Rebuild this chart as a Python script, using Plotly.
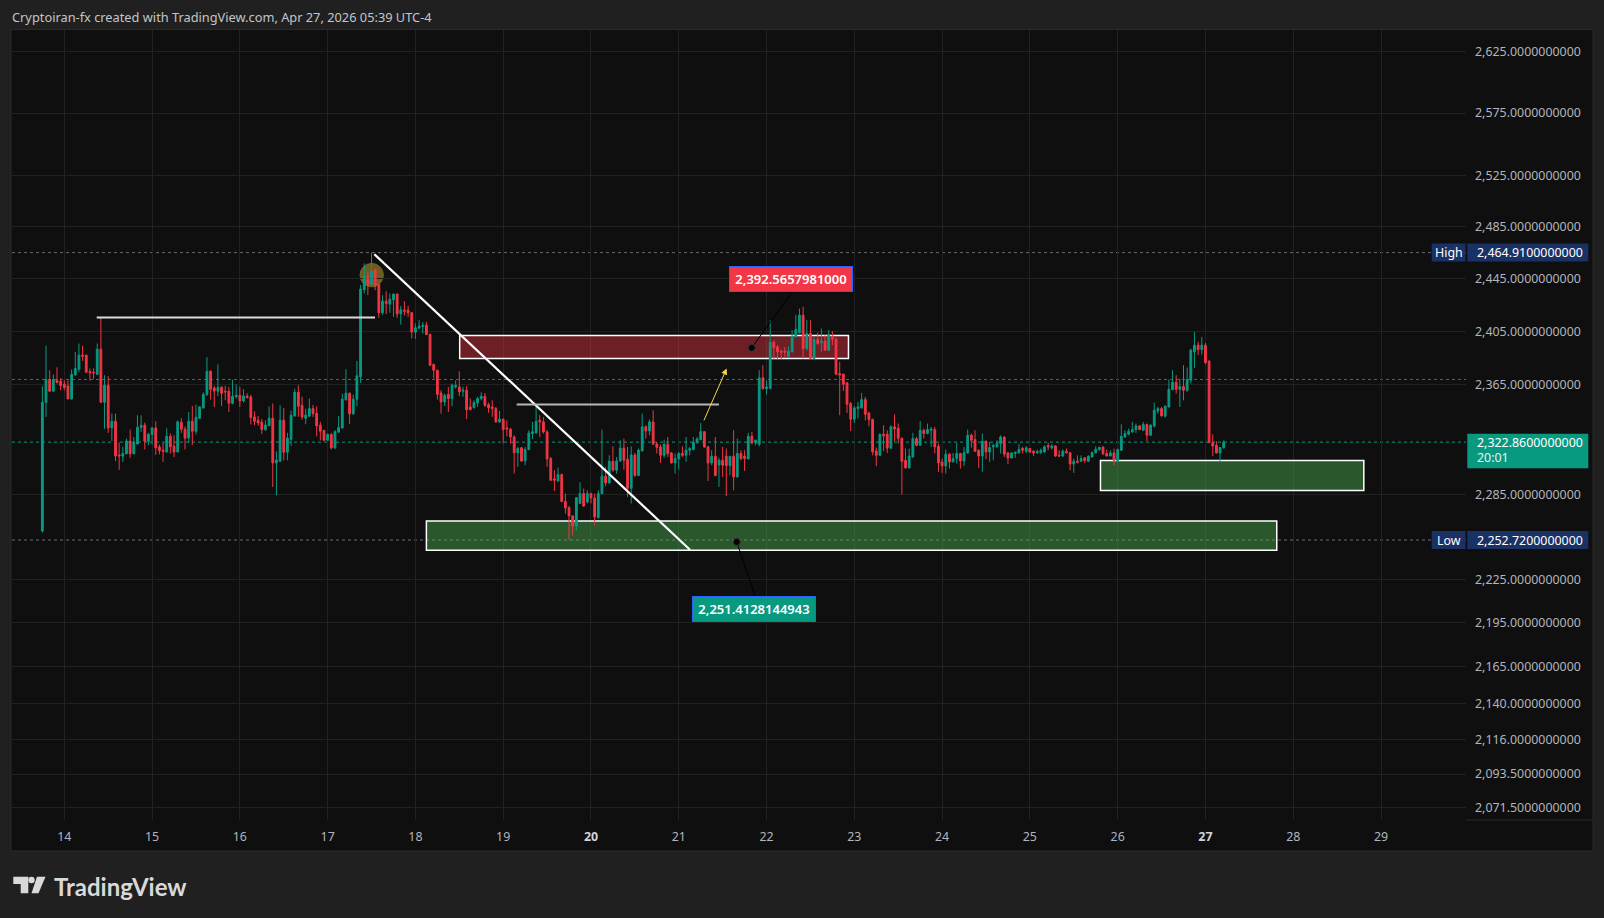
import numpy as np
import pandas as pd
import plotly.graph_objects as go

# ---------------- data (1h candles, first bar 2026-04-13 18:00) ----------------
first_bar = "2026-04-13 18:00"

open_ = [
    2259.1, 2352.0, 2368.8, 2360.2, 2368.3, 2367.6, 2365.4, 2364.1, 2354.5, 2372.3, 2376.5, 2387.0,
    2387.0, 2374.8, 2374.3, 2372.8, 2391.5, 2352.0, 2364.6, 2333.2, 2338.1, 2313.6, 2312.6, 2314.4,
    2323.7, 2314.4, 2321.5, 2333.5, 2335.2, 2323.5, 2328.4, 2333.2, 2319.4, 2317.0, 2315.7, 2327.1,
    2319.8, 2315.7, 2337.4, 2332.3, 2325.9, 2338.1, 2330.8, 2340.3, 2347.9, 2357.7, 2375.0, 2362.6,
    2360.2, 2363.1, 2360.2, 2360.2, 2351.3, 2356.2, 2357.2, 2353.0, 2356.7, 2356.0, 2341.3, 2338.8,
    2337.4, 2332.0, 2334.9, 2340.3, 2307.8, 2309.0, 2338.8, 2315.5, 2324.9, 2342.0, 2359.4, 2349.8,
    2340.3, 2341.8, 2347.4, 2343.9, 2335.2, 2331.3, 2324.2, 2328.4, 2318.7, 2330.1, 2333.2, 2353.8,
    2358.7, 2343.5, 2354.3, 2370.8, 2436.4, 2446.9, 2440.7, 2451.5, 2440.5, 2418.9, 2427.7, 2425.4,
    2428.7, 2433.1, 2418.1, 2420.9, 2420.9, 2418.9, 2404.3, 2407.3, 2408.6, 2409.5, 2402.5, 2380.2,
    2375.8, 2358.9, 2352.3, 2357.9, 2354.8, 2363.4, 2363.4, 2360.2, 2360.9, 2348.6, 2348.1, 2351.6,
    2354.8, 2356.5, 2350.3, 2348.6, 2347.4, 2337.6, 2339.6, 2333.2, 2332.3, 2326.6, 2315.0, 2318.7,
    2309.2, 2317.5, 2329.1, 2329.6, 2338.8, 2337.6, 2330.3, 2310.9, 2296.3, 2294.8, 2299.4, 2280.0,
    2275.7, 2269.8, 2262.6, 2278.6, 2285.7, 2279.7, 2285.7, 2282.6, 2268.6, 2285.7, 2298.2, 2293.4,
    2309.0, 2302.5, 2309.2, 2318.5, 2310.4, 2289.5, 2313.6, 2298.7, 2316.5, 2334.0, 2331.0, 2337.6,
    2321.5, 2319.4, 2313.3, 2321.3, 2315.0, 2307.8, 2310.7, 2314.6, 2313.3, 2317.0, 2317.5, 2322.5,
    2324.7, 2330.5, 2319.4, 2307.8, 2312.6, 2306.3, 2309.7, 2312.6, 2305.9, 2312.6, 2297.7, 2314.6,
    2312.6, 2310.7, 2327.1, 2322.3, 2321.3, 2370.1, 2362.1, 2362.1, 2396.7, 2393.2, 2390.0, 2390.0,
    2385.7, 2389.5, 2400.7, 2403.8, 2417.1, 2391.9, 2403.2, 2384.5, 2398.7, 2396.4, 2397.5, 2390.7,
    2401.2, 2399.0, 2373.3, 2372.8, 2366.4, 2351.1, 2339.6, 2347.4, 2347.9, 2354.0, 2344.2, 2339.3,
    2316.5, 2313.3, 2328.6, 2328.6, 2318.5, 2334.0, 2333.0, 2325.7, 2309.7, 2304.2, 2312.1, 2325.4,
    2320.6, 2331.5, 2329.1, 2331.5, 2332.0, 2319.8, 2308.5, 2305.6, 2314.1, 2308.5, 2310.9, 2314.6,
    2309.2, 2315.0, 2327.9, 2324.7, 2317.0, 2312.8, 2323.5, 2315.7, 2319.4, 2319.4, 2321.8, 2326.6,
    2315.0, 2311.4, 2314.6, 2315.0, 2318.2, 2316.2, 2318.2, 2316.2, 2315.0, 2315.5, 2315.7, 2320.3,
    2318.7, 2320.1, 2313.3, 2312.8, 2316.2, 2315.2, 2307.0, 2309.0, 2309.0, 2311.4, 2309.0, 2312.1,
    2315.2, 2317.5, 2319.1, 2314.6, 2312.8, 2315.0, 2309.2, 2317.0, 2326.6, 2328.6, 2330.3, 2332.0,
    2334.7, 2331.5, 2335.7, 2327.9, 2334.7, 2345.7, 2347.4, 2341.8, 2348.6, 2361.4, 2366.9, 2361.6,
    2363.6, 2360.9, 2368.3, 2389.5, 2394.5, 2391.2, 2394.5, 2382.5, 2322.5, 2320.6, 2315.0, 2318.7,
]

high = [
    2363.9, 2394.2, 2375.8, 2372.6, 2378.0, 2369.8, 2368.3, 2368.3, 2376.3, 2389.5, 2395.7, 2394.2,
    2387.5, 2377.0, 2377.2, 2395.7, 2415.3, 2372.1, 2371.3, 2343.7, 2343.7, 2322.7, 2319.4, 2325.4,
    2332.0, 2326.6, 2342.5, 2342.5, 2337.1, 2329.6, 2334.0, 2338.1, 2321.1, 2322.3, 2333.0, 2329.1,
    2327.9, 2338.8, 2340.3, 2334.2, 2344.9, 2349.3, 2350.3, 2349.3, 2359.4, 2385.5, 2375.8, 2364.1,
    2380.2, 2363.9, 2364.1, 2363.4, 2368.8, 2365.1, 2363.4, 2361.6, 2358.7, 2357.5, 2345.4, 2342.0,
    2339.8, 2338.8, 2349.1, 2351.1, 2316.2, 2349.8, 2347.9, 2329.6, 2345.9, 2362.1, 2364.6, 2356.2,
    2347.4, 2354.8, 2350.1, 2349.1, 2337.6, 2332.0, 2329.1, 2329.6, 2331.5, 2341.8, 2358.4, 2376.5,
    2359.2, 2357.7, 2382.7, 2440.0, 2456.6, 2450.2, 2464.91, 2452.7, 2441.2, 2432.3, 2435.3, 2433.6,
    2433.6, 2433.6, 2424.2, 2427.7, 2424.2, 2419.4, 2410.8, 2413.3, 2411.8, 2412.1, 2403.2, 2380.5,
    2376.0, 2360.9, 2358.4, 2363.4, 2365.9, 2368.3, 2375.0, 2363.4, 2363.9, 2354.8, 2353.5, 2356.0,
    2359.4, 2358.9, 2351.8, 2353.5, 2348.6, 2345.7, 2340.1, 2338.8, 2333.2, 2327.9, 2319.4, 2319.4,
    2319.4, 2331.5, 2337.6, 2350.3, 2342.5, 2341.3, 2331.5, 2312.1, 2302.5, 2304.4, 2300.1, 2285.7,
    2276.7, 2270.3, 2283.3, 2293.9, 2289.3, 2288.1, 2286.4, 2285.7, 2288.1, 2332.0, 2304.9, 2313.3,
    2319.8, 2312.1, 2324.2, 2325.4, 2319.4, 2319.8, 2315.0, 2318.2, 2343.7, 2335.2, 2339.3, 2346.1,
    2323.0, 2321.3, 2324.7, 2326.6, 2315.7, 2314.6, 2315.7, 2319.8, 2326.6, 2319.4, 2326.6, 2326.6,
    2336.9, 2331.0, 2320.1, 2317.0, 2326.6, 2311.6, 2319.4, 2318.2, 2312.6, 2331.5, 2325.4, 2317.0,
    2317.0, 2329.6, 2330.3, 2324.7, 2375.8, 2379.5, 2368.3, 2413.3, 2398.2, 2394.5, 2391.2, 2393.2,
    2393.7, 2405.8, 2417.1, 2422.1, 2423.4, 2413.3, 2413.3, 2400.7, 2404.0, 2407.0, 2402.0, 2405.8,
    2405.0, 2400.0, 2382.0, 2373.3, 2366.9, 2352.3, 2349.3, 2352.3, 2358.9, 2356.0, 2344.9, 2340.1,
    2318.9, 2329.1, 2335.2, 2331.5, 2335.2, 2343.2, 2336.4, 2326.0, 2318.2, 2318.2, 2329.6, 2326.6,
    2338.3, 2332.7, 2336.4, 2334.0, 2334.0, 2321.8, 2310.9, 2317.5, 2315.0, 2315.0, 2322.3, 2315.0,
    2319.4, 2332.0, 2329.1, 2331.5, 2317.5, 2329.1, 2324.2, 2323.0, 2321.8, 2324.2, 2327.9, 2327.1,
    2315.5, 2315.5, 2316.0, 2321.3, 2319.4, 2319.8, 2318.5, 2317.0, 2317.5, 2318.2, 2320.6, 2322.5,
    2321.3, 2320.6, 2317.0, 2317.7, 2318.2, 2315.7, 2310.9, 2313.3, 2313.3, 2312.1, 2313.3, 2316.2,
    2319.8, 2319.4, 2320.1, 2317.5, 2317.0, 2318.2, 2318.2, 2335.9, 2331.5, 2332.7, 2337.6, 2336.4,
    2335.2, 2337.6, 2336.4, 2335.9, 2351.8, 2348.6, 2348.6, 2349.8, 2368.8, 2375.8, 2372.1, 2369.6,
    2379.5, 2377.8, 2391.9, 2404.3, 2397.0, 2400.7, 2396.2, 2383.2, 2328.6, 2323.5, 2319.4, 2324.2,
]

low = [
    2258.0, 2341.3, 2359.7, 2359.7, 2365.9, 2360.9, 2360.9, 2354.3, 2354.0, 2371.6, 2374.5, 2382.7,
    2373.8, 2368.1, 2369.1, 2372.3, 2351.8, 2332.5, 2329.6, 2323.7, 2309.2, 2302.7, 2308.5, 2314.1,
    2311.4, 2314.1, 2321.3, 2330.3, 2317.5, 2320.6, 2321.1, 2313.6, 2313.9, 2308.5, 2315.5, 2314.6,
    2312.1, 2315.5, 2329.6, 2317.5, 2322.7, 2320.8, 2328.4, 2339.8, 2347.4, 2356.7, 2354.0, 2348.6,
    2356.5, 2349.3, 2353.5, 2344.9, 2350.6, 2354.8, 2348.6, 2352.0, 2354.8, 2335.7, 2335.2, 2334.9,
    2328.8, 2331.0, 2334.4, 2290.5, 2284.5, 2308.5, 2309.7, 2309.7, 2320.1, 2341.5, 2341.3, 2339.3,
    2335.9, 2341.3, 2341.3, 2327.1, 2324.2, 2323.7, 2323.7, 2317.5, 2317.7, 2330.0, 2332.7, 2353.5,
    2336.2, 2343.0, 2349.1, 2366.4, 2433.6, 2432.3, 2440.0, 2436.1, 2415.1, 2417.4, 2417.9, 2418.9,
    2415.8, 2415.1, 2410.0, 2416.9, 2415.8, 2399.5, 2399.2, 2406.3, 2403.2, 2402.0, 2379.0, 2369.6,
    2354.0, 2343.7, 2349.3, 2344.9, 2349.1, 2362.1, 2356.5, 2356.0, 2339.8, 2346.1, 2347.4, 2348.6,
    2353.5, 2348.6, 2344.2, 2341.3, 2337.1, 2336.9, 2321.8, 2327.1, 2321.8, 2300.1, 2304.9, 2308.5,
    2306.1, 2317.0, 2325.2, 2329.1, 2326.6, 2329.1, 2304.9, 2294.8, 2287.6, 2294.1, 2279.7, 2271.4,
    2252.72, 2256.0, 2259.6, 2278.4, 2276.2, 2278.6, 2278.6, 2263.1, 2267.9, 2285.2, 2291.0, 2292.9,
    2301.5, 2300.1, 2308.5, 2303.0, 2283.3, 2278.6, 2297.7, 2298.2, 2316.0, 2325.4, 2327.9, 2320.6,
    2314.6, 2307.8, 2311.6, 2312.1, 2307.3, 2300.1, 2303.0, 2312.1, 2308.5, 2313.3, 2317.0, 2321.8,
    2324.2, 2318.7, 2294.8, 2306.1, 2298.2, 2290.5, 2297.7, 2284.0, 2298.9, 2288.1, 2297.2, 2309.7,
    2302.0, 2310.4, 2321.3, 2320.6, 2319.8, 2361.4, 2357.9, 2361.9, 2383.2, 2383.7, 2383.7, 2385.7,
    2385.2, 2389.2, 2400.2, 2403.2, 2384.5, 2390.5, 2384.0, 2384.0, 2394.5, 2389.5, 2390.5, 2390.2,
    2394.5, 2372.5, 2342.5, 2360.4, 2344.2, 2331.0, 2336.9, 2340.1, 2347.4, 2338.8, 2334.4, 2313.3,
    2305.4, 2312.8, 2316.5, 2315.0, 2318.0, 2323.5, 2321.8, 2285.2, 2303.7, 2303.7, 2311.6, 2319.8,
    2320.1, 2325.4, 2328.6, 2319.4, 2314.6, 2301.3, 2300.6, 2300.1, 2303.7, 2308.3, 2307.3, 2303.7,
    2305.6, 2314.6, 2318.9, 2315.7, 2304.2, 2301.3, 2310.4, 2308.5, 2309.7, 2318.9, 2314.6, 2312.1,
    2306.8, 2310.9, 2311.4, 2314.6, 2314.6, 2315.0, 2315.0, 2312.8, 2314.6, 2314.1, 2315.2, 2317.0,
    2317.5, 2312.1, 2312.1, 2312.1, 2314.6, 2302.5, 2300.6, 2307.3, 2308.5, 2307.8, 2308.5, 2311.6,
    2314.6, 2316.5, 2313.3, 2312.6, 2312.6, 2306.1, 2308.5, 2316.5, 2326.1, 2327.9, 2329.8, 2329.6,
    2331.5, 2331.0, 2323.7, 2327.4, 2333.5, 2343.7, 2341.5, 2340.8, 2348.1, 2360.9, 2358.4, 2348.6,
    2353.5, 2359.7, 2365.9, 2377.5, 2387.0, 2387.5, 2380.2, 2322.3, 2312.8, 2314.6, 2309.0, 2318.2,
]

close = [
    2352.0, 2368.8, 2360.2, 2368.8, 2366.6, 2364.4, 2362.9, 2354.5, 2372.6, 2377.0, 2387.0, 2386.2,
    2374.3, 2374.0, 2373.8, 2391.5, 2352.0, 2364.6, 2333.2, 2338.1, 2312.8, 2312.8, 2314.6, 2323.7,
    2314.4, 2322.7, 2333.7, 2335.2, 2323.5, 2328.6, 2333.2, 2318.7, 2316.7, 2316.0, 2327.1, 2319.4,
    2315.7, 2337.6, 2332.3, 2325.7, 2338.1, 2330.8, 2341.0, 2348.6, 2357.9, 2375.0, 2361.6, 2360.4,
    2363.1, 2358.7, 2359.7, 2351.3, 2356.5, 2357.2, 2353.0, 2356.7, 2355.5, 2340.8, 2338.1, 2336.9,
    2332.0, 2335.4, 2340.3, 2307.8, 2309.9, 2338.8, 2315.5, 2325.7, 2342.5, 2359.4, 2349.1, 2341.3,
    2342.7, 2347.4, 2343.7, 2334.7, 2330.8, 2324.2, 2328.4, 2318.7, 2330.5, 2333.5, 2354.3, 2358.7,
    2343.5, 2354.3, 2371.6, 2436.9, 2446.9, 2440.7, 2450.7, 2440.0, 2418.9, 2427.7, 2425.9, 2429.2,
    2433.1, 2418.1, 2421.1, 2420.1, 2418.9, 2404.3, 2407.5, 2408.8, 2409.3, 2402.5, 2379.5, 2375.8,
    2357.9, 2352.3, 2357.2, 2354.8, 2364.6, 2364.6, 2359.7, 2360.9, 2346.6, 2346.6, 2351.8, 2354.8,
    2356.5, 2349.8, 2347.9, 2347.4, 2337.6, 2339.6, 2332.0, 2332.5, 2326.6, 2315.2, 2318.2, 2309.2,
    2317.5, 2329.6, 2330.5, 2338.1, 2337.6, 2330.3, 2310.7, 2295.3, 2295.3, 2299.4, 2280.0, 2275.5,
    2269.8, 2262.6, 2282.8, 2285.7, 2276.9, 2285.7, 2282.6, 2269.1, 2285.7, 2298.2, 2293.4, 2309.0,
    2302.5, 2309.2, 2318.5, 2309.7, 2289.5, 2313.6, 2298.7, 2317.0, 2334.0, 2331.0, 2337.6, 2321.5,
    2319.1, 2313.3, 2321.3, 2314.6, 2307.8, 2310.9, 2314.6, 2313.3, 2317.0, 2318.2, 2322.7, 2325.2,
    2330.5, 2319.4, 2307.8, 2312.6, 2298.7, 2309.7, 2306.1, 2305.9, 2312.6, 2297.7, 2314.6, 2310.9,
    2310.9, 2327.1, 2322.3, 2324.2, 2370.1, 2362.1, 2363.4, 2396.7, 2392.7, 2389.5, 2389.2, 2389.2,
    2390.0, 2401.2, 2406.3, 2417.1, 2391.9, 2403.2, 2384.5, 2398.7, 2395.7, 2397.5, 2390.7, 2402.0,
    2399.0, 2372.8, 2372.3, 2365.4, 2350.6, 2339.6, 2347.9, 2348.6, 2354.0, 2343.2, 2339.3, 2315.7,
    2313.3, 2328.6, 2327.4, 2318.5, 2334.0, 2332.5, 2325.7, 2309.0, 2304.2, 2312.8, 2325.4, 2320.6,
    2331.5, 2329.1, 2332.0, 2332.5, 2319.4, 2307.8, 2305.6, 2314.1, 2308.5, 2310.9, 2314.6, 2309.2,
    2315.2, 2327.9, 2324.2, 2316.2, 2312.8, 2323.5, 2315.7, 2318.9, 2320.3, 2321.8, 2326.6, 2314.1,
    2311.4, 2315.0, 2315.5, 2317.5, 2317.0, 2318.7, 2315.7, 2315.0, 2316.0, 2317.0, 2319.4, 2319.4,
    2320.1, 2312.8, 2312.8, 2316.2, 2315.2, 2307.0, 2309.0, 2308.3, 2310.9, 2309.5, 2312.6, 2315.2,
    2317.7, 2319.1, 2314.6, 2312.8, 2315.0, 2309.7, 2317.5, 2327.1, 2329.1, 2330.8, 2332.0, 2334.7,
    2332.0, 2335.7, 2327.9, 2335.2, 2346.1, 2347.4, 2342.0, 2349.1, 2361.6, 2366.9, 2361.6, 2363.6,
    2360.9, 2368.8, 2390.7, 2394.5, 2391.2, 2394.5, 2381.5, 2322.5, 2320.1, 2315.0, 2318.9, 2322.86,
]

# axis ticks
day_ticks = list(range(14, 30))
bold_days = [20, 27]
price_ticks = [2625, 2575, 2525, 2485, 2445, 2405, 2365, 2285, 2225, 2195,
               2165, 2140, 2116, 2093.5, 2071.5]
price_view = [2063.6, 2642.9]   # visible price range (log scale)

# key levels
high_price = 2464.91
low_price = 2252.72
last_price = 2322.86
prev_level = 2368.9
countdown = "20:01"

# drawings: (hours since Apr 14 00:00, price)
trend_line = [(84.76, 2463.7), (171.07, 2245.9)]
top_hline = [(8.86, 2415.4), (84.95, 2415.4)]
mid_hline = [(123.69, 2350.4), (179.0, 2350.4)]
red_zone = [(108.1, 2384.5), (214.4, 2401.8)]
green_zone_a = [(99.0, 2245.5), (331.5, 2266.2)]
green_zone_b = [(283.3, 2287.9), (355.3, 2309.5)]
yellow_arrow = [(174.71, 2337.7), (181.1, 2377.0)]
circle_mark = (84.05, 2447.6)
note_red = {"dot": (187.95, 2392.5657981), "tip": (198.9, 2434.3),
            "box": (198.8, 2444.5), "text": "2,392.5657981000"}
note_green = {"dot": (183.84, 2251.4128144943), "tip": (188.85, 2213.8),
              "box": (188.63, 2204.7), "text": "2,251.4128144943"}

# ---------------------------------------------------------------------------
base = pd.Timestamp("2026-04-14 00:00")


def T(h):
    return base + pd.Timedelta(hours=h)


times = pd.date_range(first_bar, periods=len(close), freq="h")

GREEN = "#089981"
RED = "#f23645"
FONT = "Noto Sans"

fig = go.Figure()
fig.add_trace(go.Candlestick(
    x=times, open=open_, high=high, low=low, close=close,
    increasing=dict(line=dict(color=GREEN, width=1), fillcolor=GREEN),
    decreasing=dict(line=dict(color=RED, width=1), fillcolor=RED),
    whiskerwidth=0, showlegend=False, hoverinfo="skip",
))

# plot-area pixel geometry
L, R, TOP, BOT = 12, 1466, 30, 820
PW, PH = R - L, BOT - TOP
LOG_LO, LOG_HI = np.log10(price_view[0]), np.log10(price_view[1])


def px(xp):
    return (xp - L) / PW


def py(yp):
    return (BOT - yp) / PH


def yfrac(price, dpix=0.0):
    """paper y of a price on the log axis, shifted by dpix pixels (up positive)"""
    return (np.log10(price) - LOG_LO) / (LOG_HI - LOG_LO) + dpix / PH


shapes = []
# chart frame background
shapes.append(dict(type="rect", xref="paper", yref="paper", x0=px(11), x1=px(1593),
                   y0=py(851), y1=py(29.5), fillcolor="#0f0f0f",
                   line=dict(color="#2a2a2a", width=1), layer="below"))
# price axis bottom border
shapes.append(dict(type="line", xref="paper", yref="paper", x0=1, x1=px(1593),
                   y0=0, y1=0, line=dict(color="#2a2a2a", width=1), layer="below"))

# dotted level lines
for lvl, col in [(high_price, "#6a6d78"), (low_price, "#6a6d78"),
                 (prev_level, "#5d606b"), (last_price, GREEN)]:
    shapes.append(dict(type="line", xref="paper", x0=0, x1=1, yref="y", y0=lvl, y1=lvl,
                       line=dict(color=col, width=1, dash="dot"), layer="between"))

# zones
for zone in (green_zone_a, green_zone_b):
    shapes.append(dict(type="rect", xref="x", yref="y",
                       x0=T(zone[0][0]), x1=T(zone[1][0]), y0=zone[0][1], y1=zone[1][1],
                       fillcolor="rgba(76,175,80,0.45)",
                       line=dict(color="#ffffff", width=1.5), layer="between"))
shapes.append(dict(type="rect", xref="x", yref="y",
                   x0=T(red_zone[0][0]), x1=T(red_zone[1][0]),
                   y0=red_zone[0][1], y1=red_zone[1][1],
                   fillcolor="rgba(242,54,69,0.42)",
                   line=dict(color="#ffffff", width=1.5), layer="between"))
# highlight circle
shapes.append(dict(type="circle", xref="x", yref="paper", xsizemode="pixel",
                   xanchor=T(circle_mark[0]), x0=-11.7, x1=11.7,
                   y0=yfrac(circle_mark[1], -11.7), y1=yfrac(circle_mark[1], 11.7),
                   fillcolor="rgba(255,222,59,0.38)",
                   line=dict(color="rgba(120,104,30,0.9)", width=1), layer="between"))

# lines (drawn above)
for seg, col, w in [(trend_line, "#ffffff", 2.2), (top_hline, "#dcdcdc", 2),
                    (mid_hline, "#b8b8b8", 2)]:
    shapes.append(dict(type="line", xref="x", yref="y",
                       x0=T(seg[0][0]), y0=seg[0][1], x1=T(seg[1][0]), y1=seg[1][1],
                       line=dict(color=col, width=w), layer="above"))

# price notes: connector + dot
for note in (note_red, note_green):
    shapes.append(dict(type="line", xref="x", yref="y",
                       x0=T(note["dot"][0]), y0=note["dot"][1],
                       x1=T(note["tip"][0]), y1=note["tip"][1],
                       line=dict(color="#000000", width=1), layer="above"))
    shapes.append(dict(type="circle", xref="x", yref="paper", xsizemode="pixel",
                       xanchor=T(note["dot"][0]), x0=-3.6, x1=3.6,
                       y0=yfrac(note["dot"][1], -3.6), y1=yfrac(note["dot"][1], 3.6),
                       fillcolor="#050505", line=dict(color="#3a3a3a", width=1), layer="above"))

# price-scale labels (boxes)
VX0, VX1 = px(1467.3), px(1588.3)
HB0, HB1 = px(1431.7), px(1465.5)
LABEL_BLUE = "#1a3166"
for lvl in (high_price, low_price):
    shapes.append(dict(type="rect", xref="paper", yref="paper", x0=VX0, x1=VX1,
                       y0=yfrac(lvl, -9), y1=yfrac(lvl, 9),
                       fillcolor=LABEL_BLUE, line=dict(width=0), layer="above"))
    shapes.append(dict(type="rect", xref="paper", yref="paper", x0=HB0, x1=HB1,
                       y0=yfrac(lvl, -9), y1=yfrac(lvl, 9),
                       fillcolor=LABEL_BLUE, line=dict(width=0), layer="above"))
shapes.append(dict(type="rect", xref="paper", yref="paper", x0=VX0, x1=VX1,
                   y0=yfrac(last_price, -26), y1=yfrac(last_price, 8.4),
                   fillcolor=GREEN, line=dict(width=0), layer="above"))

# TradingView logo icon
ICON_X, ICON_Y = px(13.3), py(893.3)
shapes.append(dict(type="path", xref="paper", yref="paper", xsizemode="pixel", ysizemode="pixel",
                   xanchor=ICON_X, yanchor=ICON_Y,
                   path="M 0 16.6 L 15 16.6 L 15 0 L 7.4 0 L 7.4 9.3 L 0 9.3 Z",
                   fillcolor="#d9d9d9", line=dict(width=0), layer="above"))
shapes.append(dict(type="path", xref="paper", yref="paper", xsizemode="pixel", ysizemode="pixel",
                   xanchor=ICON_X, yanchor=ICON_Y,
                   path="M 23.7 16.6 L 32.2 16.6 L 25.2 0 L 18.2 0 Z",
                   fillcolor="#d9d9d9", line=dict(width=0), layer="above"))
shapes.append(dict(type="circle", xref="paper", yref="paper", xsizemode="pixel", ysizemode="pixel",
                   xanchor=ICON_X, yanchor=ICON_Y, x0=15.0, x1=21.4, y0=10.1, y1=16.5,
                   fillcolor="#d9d9d9", line=dict(width=0), layer="above"))

annotations = []
# header
annotations.append(dict(xref="paper", yref="paper", x=px(10), y=py(16.7), xanchor="left",
                        yanchor="middle", showarrow=False,
                        text="Cryptoiran-fx created with TradingView.com, Apr 27, 2026 05:39 UTC-4",
                        font=dict(family=FONT, size=12.8, color="#c2c5cc")))
# logo text
annotations.append(dict(xref="paper", yref="paper", x=px(52), y=py(886), xanchor="left",
                        yanchor="middle", showarrow=False, text="<b>TradingView</b>",
                        font=dict(family="Lato", size=24, color="#d9d9d9")))

# price scale label texts
for lvl, tag in [(high_price, "High"), (low_price, "Low")]:
    annotations.append(dict(xref="paper", yref="paper", x=px(1474.5), y=yfrac(lvl),
                            xanchor="left", yanchor="middle", showarrow=False,
                            text=f"{lvl:,.10f}", font=dict(family=FONT, size=12.4, color="#ffffff")))
    annotations.append(dict(xref="paper", yref="paper", x=(HB0 + HB1) / 2, y=yfrac(lvl),
                            xanchor="center", yanchor="middle", showarrow=False,
                            text=tag, font=dict(family=FONT, size=12.4, color="#ffffff")))
annotations.append(dict(xref="paper", yref="paper", x=px(1474.5), y=yfrac(last_price),
                        xanchor="left", yanchor="middle", showarrow=False,
                        text=f"{last_price:,.10f}", font=dict(family=FONT, size=12.4, color="#ffffff")))
annotations.append(dict(xref="paper", yref="paper", x=px(1474.5), y=yfrac(last_price, -15),
                        xanchor="left", yanchor="middle", showarrow=False,
                        text=countdown, font=dict(family=FONT, size=12.4, color="#e6f5f2")))

# price notes boxes
for note, bg in [(note_red, RED), (note_green, GREEN)]:
    annotations.append(dict(xref="x", yref="y", x=T(note["box"][0]), y=np.log10(note["box"][1]),
                            xanchor="center", yanchor="middle", showarrow=False,
                            text=note["text"], width=118, height=20, borderpad=2,
                            bgcolor=bg, bordercolor="#2962ff", borderwidth=1,
                            font=dict(family=FONT, size=13, color="#ffffff", weight=600)))

# yellow arrow
annotations.append(dict(xref="x", yref="y", axref="x", ayref="y",
                        x=T(yellow_arrow[1][0]), y=np.log10(yellow_arrow[1][1]),
                        ax=T(yellow_arrow[0][0]), ay=np.log10(yellow_arrow[0][1]),
                        showarrow=True, text="", arrowhead=2, arrowsize=1.2, arrowwidth=1,
                        arrowcolor="#f5d742"))

ticktext_x = [f"<b><span style='color:#d1d4dc'>{d}</span></b>" if d in bold_days else str(d)
              for d in day_ticks]

fig.update_layout(
    width=1604, height=918,
    margin=dict(l=L, r=1604 - R, t=TOP, b=918 - BOT),
    paper_bgcolor="#202020", plot_bgcolor="#0f0f0f",
    showlegend=False, hovermode=False,
    font=dict(family=FONT, size=12, color="#b2b5be"),
    xaxis=dict(type="date", range=[T(-14.3), T(383.24)],
               rangeslider=dict(visible=False),
               tickmode="array", tickvals=[T((d - 14) * 24) for d in day_ticks],
               ticktext=ticktext_x, showgrid=True, gridcolor="#222222", gridwidth=1,
               zeroline=False, showline=False, ticks="", ticklabelstandoff=8,
               tickfont=dict(family=FONT, size=12.4, color="#b2b5be"), fixedrange=True),
    yaxis=dict(type="log", side="right",
               range=[LOG_LO, LOG_HI],
               tickmode="array", tickvals=price_ticks,
               ticktext=[f"{v:,.10f}" for v in price_ticks],
               showgrid=True, gridcolor="#222222", gridwidth=1,
               zeroline=False, showline=False, ticks="", ticklabelstandoff=8,
               tickfont=dict(family=FONT, size=12.4, color="#b2b5be"), fixedrange=True),
    shapes=shapes,
    annotations=annotations,
)

fig.write_html("out.html", include_plotlyjs=True, config={"displayModeBar": False},
               post_script="document.body.style.margin='0px';"
                           "document.body.style.background='#202020';")
